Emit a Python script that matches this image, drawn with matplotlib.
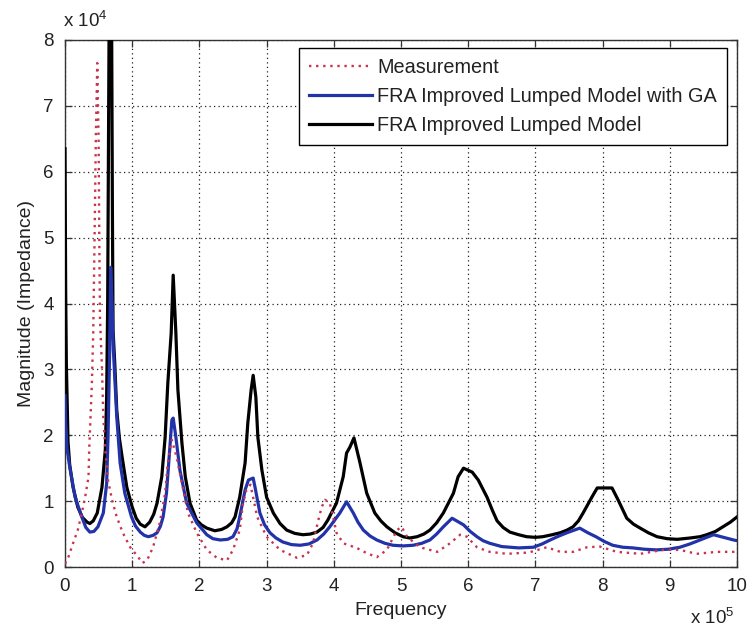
import matplotlib
matplotlib.use("Agg")
import matplotlib.pyplot as plt

plt.rcParams["font.family"] = ["Liberation Sans", "DejaVu Sans"]
plt.rcParams["mathtext.fontset"] = "custom"
plt.rcParams["mathtext.rm"] = "Liberation Sans"

# Frequency in units of 1e5 Hz, magnitude in units of 1e4 ohm
measurement = [
    (0.0, 0.05), (0.05, 0.15), (0.12, 0.36), (0.19, 0.56), (0.25, 0.82),
    (0.3, 1.06), (0.35, 1.37), (0.36, 1.78), (0.38, 2.28), (0.4, 2.79),
    (0.42, 3.55), (0.44, 5.0), (0.46, 6.6), (0.48, 7.65), (0.5, 6.5),
    (0.51, 5.0), (0.52, 3.79), (0.55, 3.03), (0.57, 2.28), (0.6, 1.78),
    (0.64, 1.32), (0.7, 1.02), (0.77, 0.76), (0.86, 0.52), (0.97, 0.3),
    (1.09, 0.15), (1.15, 0.06), (1.22, 0.1), (1.31, 0.3), (1.41, 0.67),
    (1.49, 1.12), (1.53, 1.58), (1.57, 1.82), (1.59, 1.93), (1.66, 1.67),
    (1.74, 1.27), (1.83, 0.82), (1.96, 0.52), (2.11, 0.26), (2.26, 0.14),
    (2.41, 0.1), (2.5, 0.26), (2.6, 0.56), (2.65, 0.97), (2.7, 1.17),
    (2.76, 1.25), (2.86, 0.76), (3.0, 0.46), (3.2, 0.26), (3.45, 0.14),
    (3.6, 0.18), (3.69, 0.36), (3.76, 0.67), (3.82, 0.91), (3.87, 1.02),
    (3.94, 0.97), (3.99, 0.76), (4.04, 0.52), (4.14, 0.36), (4.34, 0.29),
    (4.49, 0.21), (4.64, 0.15), (4.79, 0.26), (4.94, 0.56), (5.01, 0.61),
    (5.09, 0.46), (5.28, 0.3), (5.54, 0.23), (5.73, 0.36), (5.88, 0.49),
    (5.98, 0.46), (6.13, 0.3), (6.32, 0.23), (6.58, 0.2), (6.9, 0.22),
    (7.17, 0.3), (7.37, 0.23), (7.56, 0.23), (7.77, 0.3), (7.96, 0.31),
    (8.21, 0.23), (8.56, 0.2), (8.9, 0.26), (9.15, 0.26), (9.4, 0.2),
    (9.7, 0.23), (10.0, 0.23),
]

model_ga = [
    (0.0, 2.6), (0.01, 2.2), (0.03, 1.8), (0.07, 1.52), (0.15, 1.06),
    (0.25, 0.76), (0.31, 0.6), (0.37, 0.53), (0.43, 0.54), (0.49, 0.61),
    (0.57, 0.82), (0.62, 1.27), (0.64, 1.97), (0.665, 3.3), (0.68, 4.55),
    (0.70, 4.0), (0.72, 3.29), (0.77, 2.28), (0.82, 1.58), (0.89, 1.12),
    (0.99, 0.76), (1.05, 0.62), (1.12, 0.53), (1.18, 0.48), (1.24, 0.46),
    (1.31, 0.48), (1.37, 0.52), (1.42, 0.62), (1.46, 0.76), (1.51, 1.12),
    (1.55, 1.67), (1.59, 2.23), (1.61, 2.26), (1.65, 1.97), (1.71, 1.47),
    (1.81, 0.97), (1.96, 0.67), (2.11, 0.49), (2.2, 0.43), (2.31, 0.41),
    (2.42, 0.42), (2.5, 0.46), (2.56, 0.58), (2.6, 0.76), (2.68, 1.17),
    (2.73, 1.32), (2.8, 1.35), (2.83, 1.2), (2.9, 0.82), (2.97, 0.64),
    (3.05, 0.52), (3.14, 0.44), (3.24, 0.38), (3.37, 0.34), (3.5, 0.33),
    (3.63, 0.35), (3.75, 0.41), (3.85, 0.5), (3.94, 0.61), (4.09, 0.82),
    (4.19, 0.99), (4.29, 0.82), (4.36, 0.68), (4.44, 0.56), (4.54, 0.47),
    (4.64, 0.41), (4.76, 0.36), (4.88, 0.33), (5.03, 0.32), (5.18, 0.33),
    (5.31, 0.36), (5.43, 0.41), (5.53, 0.5), (5.63, 0.61), (5.76, 0.74),
    (5.93, 0.64), (6.03, 0.54), (6.13, 0.46), (6.22, 0.4), (6.32, 0.36),
    (6.5, 0.31), (6.75, 0.29), (6.97, 0.3), (7.1, 0.35), (7.22, 0.41),
    (7.35, 0.47), (7.47, 0.52), (7.66, 0.59), (7.78, 0.52), (7.9, 0.46),
    (8.02, 0.39), (8.15, 0.33), (8.3, 0.3), (8.45, 0.29), (8.62, 0.27),
    (8.8, 0.26), (8.98, 0.27), (9.15, 0.3), (9.3, 0.35), (9.45, 0.41),
    (9.65, 0.49), (9.8, 0.45), (9.95, 0.41), (10.0, 0.4),
]

model_lumped = [
    (0.0, 6.35), (0.01, 4.2), (0.02, 3.1), (0.045, 1.9), (0.07, 1.55),
    (0.12, 1.21), (0.19, 0.91), (0.26, 0.75), (0.33, 0.68), (0.37, 0.66),
    (0.42, 0.7), (0.48, 0.82), (0.55, 1.21), (0.6, 1.78), (0.62, 2.6),
    (0.635, 4.0), (0.645, 6.0), (0.655, 8.0), (0.675, 8.8), (0.695, 8.0),
    (0.705, 5.5), (0.715, 3.6), (0.74, 3.1), (0.77, 2.38), (0.81, 1.95),
    (0.85, 1.67), (0.92, 1.21), (1.0, 0.91), (1.06, 0.74), (1.12, 0.65),
    (1.19, 0.61), (1.26, 0.68), (1.32, 0.8), (1.37, 0.97), (1.44, 1.37),
    (1.49, 1.97), (1.53, 2.79), (1.58, 3.55), (1.61, 4.43), (1.65, 3.55),
    (1.68, 2.69), (1.74, 1.88), (1.79, 1.37), (1.86, 0.97), (1.96, 0.71),
    (2.03, 0.64), (2.11, 0.59), (2.23, 0.55), (2.33, 0.57), (2.41, 0.61),
    (2.48, 0.67), (2.53, 0.76), (2.6, 1.06), (2.68, 1.58), (2.72, 2.18),
    (2.77, 2.69), (2.8, 2.91), (2.84, 2.58), (2.87, 1.97), (2.93, 1.47),
    (3.0, 1.06), (3.1, 0.82), (3.2, 0.66), (3.3, 0.56), (3.42, 0.51),
    (3.54, 0.49), (3.65, 0.5), (3.75, 0.53), (3.84, 0.6), (3.91, 0.71),
    (4.04, 0.97), (4.14, 1.37), (4.19, 1.73), (4.24, 1.82), (4.3, 1.96),
    (4.39, 1.58), (4.49, 1.12), (4.61, 0.82), (4.7, 0.7), (4.79, 0.61),
    (4.91, 0.52), (5.03, 0.46), (5.13, 0.44), (5.24, 0.46), (5.34, 0.5),
    (5.43, 0.56), (5.53, 0.67), (5.63, 0.82), (5.78, 1.12), (5.85, 1.37),
    (5.93, 1.5), (6.06, 1.44), (6.15, 1.32), (6.28, 1.06), (6.36, 0.86),
    (6.43, 0.7), (6.52, 0.6), (6.62, 0.53), (6.75, 0.49), (6.87, 0.46),
    (7.0, 0.45), (7.11, 0.46), (7.25, 0.49), (7.37, 0.52), (7.47, 0.56),
    (7.56, 0.61), (7.64, 0.7), (7.71, 0.82), (7.84, 1.06), (7.92, 1.2),
    (8.14, 1.2), (8.23, 1.02), (8.36, 0.74), (8.46, 0.65), (8.56, 0.59),
    (8.68, 0.52), (8.81, 0.46), (8.96, 0.43), (9.11, 0.42), (9.3, 0.44),
    (9.45, 0.46), (9.55, 0.49), (9.68, 0.54), (9.79, 0.61), (9.9, 0.68),
    (10.0, 0.76),
]

series_labels = [
    "Measurement",
    "FRA Improved Lumped Model with GA",
    "FRA Improved Lumped Model",
]
x_ticks = list(range(0, 11))
y_ticks = list(range(0, 9))

fig = plt.figure(figsize=(7.48, 6.3), dpi=100)
ax = fig.add_axes([65 / 748, 1 - 567 / 630, 672 / 748, 527 / 630])

def unzip(pts):
    return [p[0] for p in pts], [p[1] for p in pts]

fx, fy = unzip(measurement)
gx, gy = unzip(model_ga)
lx, ly = unzip(model_lumped)

h_lump, = ax.plot(lx, ly, color="black", lw=2.3, zorder=3,
                  solid_joinstyle="round")
h_ga, = ax.plot(gx, gy, color="#2233aa", lw=2.3, zorder=4,
                solid_joinstyle="round")
h_meas, = ax.plot(fx, fy, color="#c8344e", lw=1.7, zorder=5,
                  linestyle=(0, (1, 2)))

ax.set_xlim(0, 10)
ax.set_ylim(0, 8)
ax.set_xticks(x_ticks)
ax.set_yticks(y_ticks)
ax.grid(True, color="#222222", linestyle=(0, (1, 2.6)), lw=0.9)
ax.set_axisbelow(True)

ax.tick_params(direction="in", top=True, right=True, length=5, width=0.9,
               labelsize=13.5, labelcolor="#222222", color="#333333")
ax.tick_params(axis="y", pad=8)
ax.tick_params(axis="x", pad=8)
for s in ax.spines.values():
    s.set_linewidth(1.0)
    s.set_color("#333333")

ax.set_xlabel("Frequency", fontsize=14, color="#222222", labelpad=5)
ax.set_ylabel("Magnitude (Impedance)", fontsize=14, color="#222222",
              labelpad=6)

fig.text(63 / 748, 1 - 27 / 630, r"x 10$^{\mathregular{4}}$", fontsize=13.5,
         color="#222222", ha="left", va="baseline")
fig.text(690 / 748, 1 - 624 / 630, r"x 10$^{\mathregular{5}}$", fontsize=13.5,
         color="#222222", ha="left", va="baseline")

leg = ax.legend([h_meas, h_ga, h_lump], series_labels, loc="upper right",
                bbox_to_anchor=(662 / 672, 519 / 527), fontsize=14.3,
                frameon=True, fancybox=False, shadow=False,
                handlelength=3.2, handletextpad=0.25, labelspacing=0.5,
                borderpad=0.5, borderaxespad=0.0)
leg.get_frame().set_edgecolor("black")
leg.get_frame().set_linewidth(1.0)
leg.get_frame().set_alpha(1.0)
for t in leg.get_texts():
    t.set_color("#222222")

fig.savefig("out.png", dpi=100)
